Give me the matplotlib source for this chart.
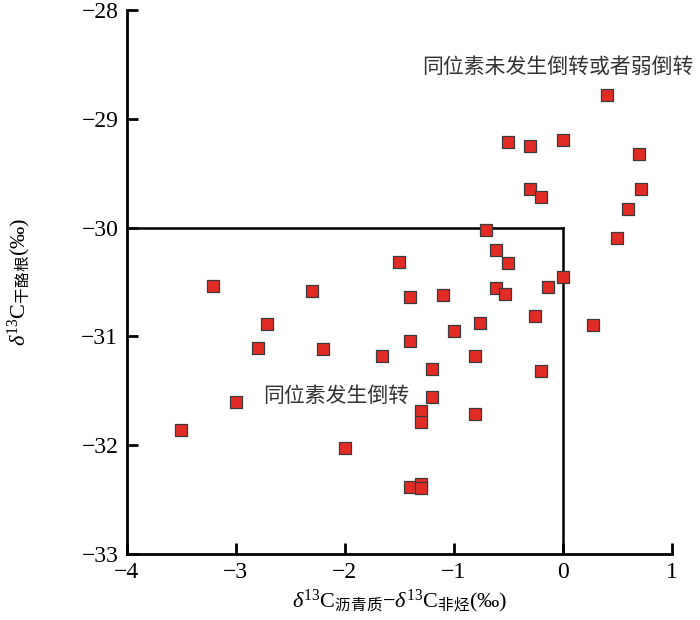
import matplotlib.pyplot as plt

plt.rcParams['font.family'] = ['Liberation Serif', 'Noto Sans CJK SC']
plt.rcParams['mathtext.fontset'] = 'custom'
plt.rcParams['mathtext.rm'] = 'Noto Sans CJK SC'
plt.rcParams['mathtext.sf'] = 'Liberation Serif'
plt.rcParams['mathtext.it'] = 'Liberation Serif:italic'
plt.rcParams['axes.unicode_minus'] = True

# 数据：δ13C沥青质-δ13C非烃 与 δ13C干酪根
x_diff = [0.40, -0.50, -0.30, 0.00, 0.70, -0.30, -0.20, 0.72, 0.60, 0.50,
          -0.71, -0.61, -0.50, -1.50, -3.21, -2.30, -0.61, -0.53, -0.14, 0.00,
          -1.40, -1.10, -0.26, -0.76, -2.71, -1.00, 0.28, -1.40, -2.80, -2.20,
          -1.66, -0.81, -1.20, -0.20, -3.00, -1.20, -1.30, -1.30, -0.81, -3.50,
          -2.00, -1.40, -1.30, -1.30]
y_kerogen = [-28.78, -29.21, -29.25, -29.20, -29.32, -29.65, -29.72, -29.65, -29.83, -30.10,
             -30.02, -30.21, -30.33, -30.32, -30.54, -30.58, -30.56, -30.61, -30.55, -30.45,
             -30.64, -30.62, -30.81, -30.88, -30.89, -30.95, -30.90, -31.04, -31.11, -31.12,
             -31.18, -31.18, -31.30, -31.32, -31.60, -31.56, -31.69, -31.79, -31.71, -31.86,
             -32.03, -32.38, -32.36, -32.39]

xticks = [-4, -3, -2, -1, 0, 1]
yticks = [-33, -32, -31, -30, -29, -28]

fig = plt.figure(figsize=(7, 6.2), dpi=100)
ax = fig.add_axes([0.181, 0.1065, 0.779, 0.8775])

# 分区框线
ax.plot([-4, 0], [-30, -30], color='black', lw=1.8)
ax.plot([0, 0], [-30, -33], color='black', lw=1.8)

ax.scatter(x_diff, y_kerogen, marker='s', s=70, facecolor='#e32b25',
           edgecolor='#3a3a3a', linewidths=0.9, zorder=3, clip_on=False)

ax.set_xlim(-4, 1)
ax.set_ylim(-33, -28)
ax.set_xticks(xticks)
ax.set_yticks(yticks)
ax.tick_params(direction='in', length=8, width=2, labelsize=17, pad=6)
for s in ['top', 'right']:
    ax.spines[s].set_visible(False)
for s in ['left', 'bottom']:
    ax.spines[s].set_linewidth(2)

ax.text(-1.29, -28.52, '同位素未发生倒转或者弱倒转', family='Noto Sans CJK SC',
        fontsize=15, color='#333333', ha='left', va='center', clip_on=False)
ax.text(-2.75, -31.55, '同位素发生倒转', family='Noto Sans CJK SC',
        fontsize=15, color='#333333', ha='left', va='center')

ax.set_xlabel(r'$\delta^{\mathsf{13}}\mathsf{C}_{\mathrm{沥青质}}\mathsf{-}\delta^{\mathsf{13}}\mathsf{C}_{\mathrm{非烃}}\mathsf{(‰)}$',
              fontsize=16)
ax.set_ylabel(r'$\delta^{\mathsf{13}}\mathsf{C}_{\mathrm{干酪根}}\mathsf{(‰)}$',
              fontsize=16)
ax.xaxis.set_label_coords(0.5, -0.062)
ax.yaxis.set_label_coords(-0.172, 0.5)

plt.savefig('out.png', dpi=100)
